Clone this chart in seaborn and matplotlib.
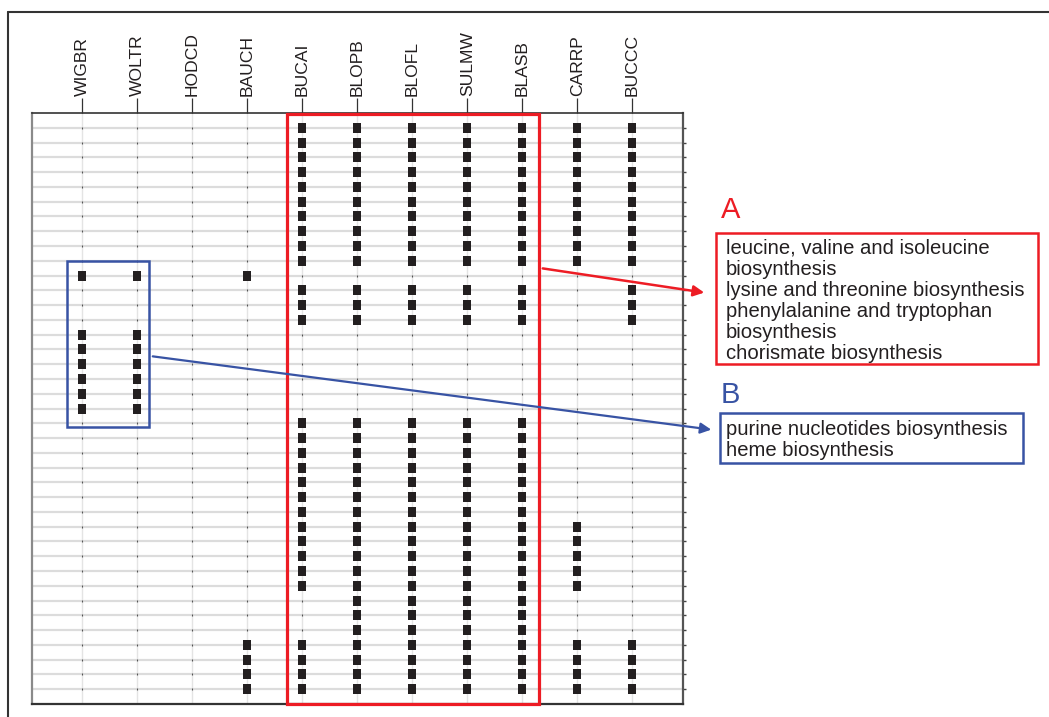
import numpy as np
import pandas as pd
import matplotlib
matplotlib.use("Agg")
import matplotlib.pyplot as plt
import seaborn as sns
from matplotlib.patches import Rectangle, FancyArrowPatch
from matplotlib.lines import Line2D

# organisms (columns) and presence of each of the 39 pathways (rows, top to bottom)
organisms = ["WIGBR", "WOLTR", "HODCD", "BAUCH", "BUCAI", "BLOPB",
             "BLOFL", "SULMW", "BLASB", "CARRP", "BUCCC"]

wigbr = "0000000000 1 000 111111 0000000000000000000"
woltr = "0000000000 1 000 111111 0000000000000000000"
hodcd = "0000000000 0 000 000000 0000000000000000000"
bauch = "0000000000 1 000 000000 000000000000000 1111"
bucai = "1111111111 0 111 000000 111111111111 000 1111"
blopb = "1111111111 0 111 000000 1111111111111111111"
blofl = "1111111111 0 111 000000 1111111111111111111"
sulmw = "1111111111 0 111 000000 1111111111111111111"
blasb = "1111111111 0 111 000000 1111111111111111111"
carrp = "1111111111 0 000 000000 0000000 11111 000 1111"
buccc = "1111111111 0 111 000000 000000000000000 1111"

group_a = ["leucine, valine and isoleucine", "biosynthesis",
           "lysine and threonine biosynthesis",
           "phenylalanine and tryptophan", "biosynthesis",
           "chorismate biosynthesis"]
group_b = ["purine nucleotides biosynthesis", "heme biosynthesis"]

presence = [wigbr, woltr, hodcd, bauch, bucai, blopb, blofl, sulmw, blasb, carrp, buccc]
presence = [p.replace(" ", "") for p in presence]
n_rows = len(presence[0])

records = []
for org, pattern in zip(organisms, presence):
    for row, flag in enumerate(pattern):
        if flag == "1":
            records.append({"organism": org, "pathway": row})
df = pd.DataFrame(records)

sns.set_style("white")
plt.rcParams["font.family"] = ["Liberation Sans", "DejaVu Sans"]

W, H = 1049, 717
fig = plt.figure(figsize=(W / 100, H / 100), dpi=100)
ax = fig.add_axes([32 / W, 13 / H, 651 / W, 591 / H])


def fx(px):
    return px / W


def fy(py):
    return 1 - py / H


# faint grid + tiny marks at every cell
ax.set_axisbelow(True)
for r in range(n_rows):
    ax.axhline(r, color="#dcdcdc", lw=1.6, zorder=0)
for c in range(len(organisms)):
    ax.axvline(c, color="#e4e4e4", lw=1.0, zorder=0)
gx, gy = np.meshgrid(np.arange(len(organisms)), np.arange(n_rows))
ax.plot(gx.ravel(), gy.ravel(), ls="none", marker="|", ms=2, mew=0.8,
        color="#555555", zorder=1)

rect_marker = [(-0.42, -0.5), (0.42, -0.5), (0.42, 0.5), (-0.42, 0.5)]
sns.stripplot(data=df, x="organism", y="pathway", order=organisms, jitter=False,
              marker=rect_marker, size=7.2, color="#231f20", linewidth=0,
              ax=ax, zorder=3)

ax.set_xlim(-0.91, 10.92)
ax.set_ylim(39.0, -1.0)
ax.set_xlabel("")
ax.set_ylabel("")

ax.xaxis.tick_top()
ax.set_xticks(range(len(organisms)))
ax.set_xticklabels(organisms, rotation=90)
ax.tick_params(axis="x", top=True, bottom=False, length=11, width=0.9,
               color="#333333", pad=1, labelsize=12.6, labelcolor="#231f20")
ax.yaxis.tick_right()
ax.set_yticks(range(n_rows))
ax.tick_params(axis="y", right=True, left=False, labelright=False, labelleft=False,
               length=2.5, width=1.0, color="#444444")

for side, col, lw in [("left", "#8a8a8a", 1.6), ("top", "#333333", 1.2),
                      ("right", "#555555", 1.6), ("bottom", "#333333", 1.6)]:
    ax.spines[side].set_visible(True)
    ax.spines[side].set_color(col)
    ax.spines[side].set_linewidth(lw)

red = "#ed1c24"
blue = "#3853a4"

# highlighted blocks
ax.add_patch(Rectangle((3.72, -0.9), 8.30 - 3.72, 39.0 - (-0.9), fill=False,
                       ec=red, lw=2.3, zorder=4, clip_on=False))
ax.add_patch(Rectangle((-0.28, 9.03), 1.22 - (-0.28), 20.26 - 9.03, fill=False,
                       ec=blue, lw=1.8, zorder=4, clip_on=False))

# outer frame (open to the right and bottom)
fig.add_artist(Line2D([fx(8), fx(8)], [0, fy(12)], transform=fig.transFigure,
                      color="#333333", lw=1.5))
fig.add_artist(Line2D([fx(8), 1], [fy(12), fy(12)], transform=fig.transFigure,
                      color="#333333", lw=1.5))

# annotation A
fig.text(fx(721), fy(218), "A", color=red, fontsize=21, va="baseline", ha="left")
fig.add_artist(Rectangle((fx(716), fy(364)), fx(1038) - fx(716), fy(233) - fy(364),
                         transform=fig.transFigure, fill=False, ec=red, lw=1.8))
fig.text(fx(726), fy(239), "\n".join(group_a), color="#231f20", fontsize=14.6,
         va="top", ha="left", linespacing=1.14)
fig.add_artist(FancyArrowPatch(
    (fx(540), fy(268)), (fx(707), fy(293)), transform=fig.transFigure,
    arrowstyle="-|>", mutation_scale=16, color=red, lw=1.8))

# annotation B
fig.text(fx(721), fy(403), "B", color=blue, fontsize=21, va="baseline", ha="left")
fig.add_artist(Rectangle((fx(720), fy(463)), fx(1023) - fx(720), fy(413) - fy(463),
                         transform=fig.transFigure, fill=False, ec=blue, lw=1.8))
fig.text(fx(726), fy(420), "\n".join(group_b), color="#231f20", fontsize=14.6,
         va="top", ha="left", linespacing=1.14)
fig.add_artist(FancyArrowPatch(
    (fx(150), fy(356)), (fx(714), fy(430)), transform=fig.transFigure,
    arrowstyle="-|>", mutation_scale=16, color=blue, lw=1.6))

fig.savefig("out.png", dpi=100)
plt.close(fig)
